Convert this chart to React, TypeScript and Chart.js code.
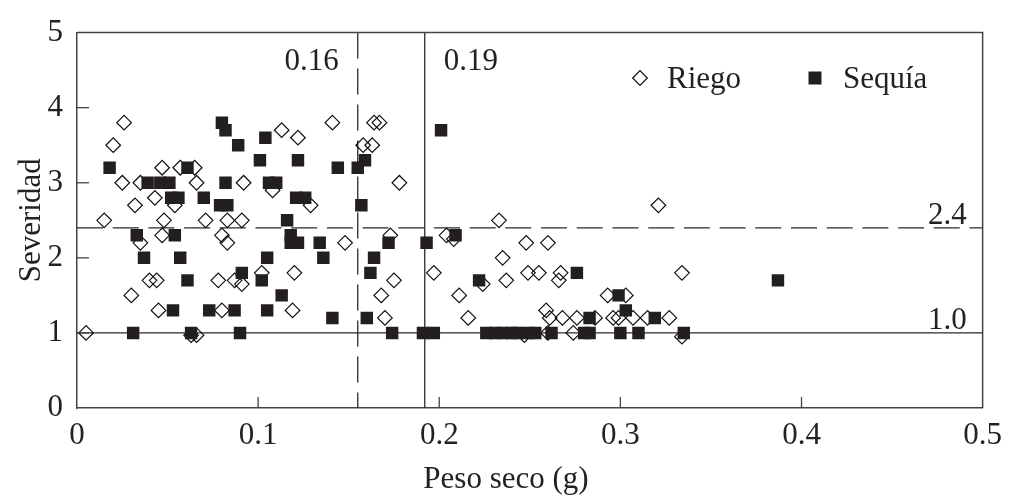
import React, { useEffect, useRef } from "react";
import { Chart, registerables } from "chart.js";

Chart.register(...registerables);

const FONT = '"Liberation Serif", "Times New Roman", serif';
const FS = 31;

// Riego (open diamonds): peso seco (g), severidad
const riegoX = [
  0.005, 0.015, 0.020, 0.026, 0.025, 0.030, 0.032, 0.035, 0.035, 0.040,
  0.044, 0.043, 0.047, 0.047, 0.048, 0.045, 0.054, 0.057, 0.065, 0.066,
  0.063, 0.066, 0.071, 0.078, 0.080, 0.080, 0.083, 0.083, 0.087, 0.091,
  0.091, 0.092, 0.102, 0.108, 0.113, 0.119, 0.120, 0.122, 0.129, 0.141,
  0.148, 0.158, 0.163, 0.164, 0.167, 0.168, 0.170, 0.173, 0.175, 0.178,
  0.197, 0.204, 0.208, 0.211, 0.216, 0.224, 0.233, 0.235, 0.237, 0.247,
  0.248, 0.249, 0.255, 0.259, 0.260, 0.261, 0.260, 0.266, 0.267, 0.268,
  0.274, 0.276, 0.286, 0.293, 0.296, 0.299, 0.303, 0.307, 0.315, 0.321,
  0.327, 0.334, 0.334,
];
const riegoY = [
  1.0, 2.5, 3.5, 3.8, 3.0, 1.5, 2.7, 3.0, 2.2, 1.7,
  1.7, 2.8, 3.2, 2.3, 2.5, 1.3, 2.7, 3.2, 3.2, 3.0,
  0.97, 0.97, 2.5, 1.7, 2.3, 1.3, 2.2, 2.5, 1.7, 1.65,
  2.5, 3.0, 1.8, 2.9, 3.7, 1.3, 1.8, 3.6, 2.7, 3.8,
  2.2, 3.5, 3.5, 3.8, 3.8, 1.5, 1.2, 2.3, 1.7, 3.0,
  1.8, 2.3, 2.25, 1.5, 1.2, 1.65, 2.5, 2.0, 1.7, 0.97,
  2.2, 1.8, 1.8, 1.3, 2.2, 1.2, 1.0, 1.7, 1.8, 1.2,
  1.0, 1.2, 1.2, 1.5, 1.2, 1.2, 1.5, 1.2, 1.2, 2.7,
  1.2, 1.8, 0.95,
];

// Sequía (filled squares)
const sequiaX = [
  0.018, 0.031, 0.033, 0.037, 0.039, 0.046, 0.051, 0.052, 0.053, 0.054,
  0.056, 0.057, 0.061, 0.061, 0.063, 0.070, 0.073, 0.079, 0.080, 0.082,
  0.082, 0.083, 0.087, 0.089, 0.090, 0.091, 0.101, 0.102, 0.104, 0.105,
  0.105, 0.106, 0.110, 0.113, 0.116, 0.118, 0.118, 0.121, 0.122, 0.122,
  0.126, 0.134, 0.136, 0.141, 0.144, 0.155, 0.157, 0.159, 0.160, 0.162,
  0.164, 0.172, 0.174, 0.191, 0.193, 0.197, 0.201, 0.209, 0.222, 0.226,
  0.231, 0.235, 0.240, 0.243, 0.249, 0.253, 0.262, 0.276, 0.280, 0.283,
  0.283, 0.299, 0.300, 0.303, 0.310, 0.319, 0.335, 0.387,
];
const sequiaY = [
  3.2, 1.0, 2.3, 2.0, 3.0, 3.0, 3.0, 2.8, 1.3, 2.3,
  2.8, 2.0, 3.2, 1.7, 1.0, 2.8, 1.3, 2.7, 3.8, 3.7,
  3.0, 2.7, 1.3, 3.5, 1.0, 1.8, 3.3, 1.7, 3.6, 2.0,
  1.3, 3.0, 3.0, 1.5, 2.5, 2.3, 2.2, 2.8, 3.3, 2.2,
  2.8, 2.2, 2.0, 1.2, 3.2, 3.2, 2.7, 3.3, 1.2, 1.8,
  2.0, 2.2, 1.0, 1.0, 2.2, 1.0, 3.7, 2.3, 1.7, 1.0,
  1.0, 1.0, 1.0, 1.0, 1.0, 1.0, 1.0, 1.8, 1.0, 1.0,
  1.2, 1.5, 1.0, 1.3, 1.0, 1.2, 1.0, 1.7,
];

const xTicks = [0, 0.1, 0.2, 0.3, 0.4, 0.5];
const yTicks = [0, 1, 2, 3, 4, 5];

// Threshold lines
const vLineValues = [0.155, 0.192];
const vLineLabels = ["0.16", "0.19"];
const vLineDashed = [true, false];
const hLineValues = [2.4, 1.0];
const hLineLabels = ["2.4", "1.0"];
const hLineDashed = [true, false];

const legendLabels = ["Riego", "Sequía"];
const xTitle = "Peso seco (g)";
const yTitle = "Severidad";

const overlayPlugin = {
  id: "overlay",
  beforeDatasetsDraw(chart: any) {
    const { ctx, chartArea: a, scales } = chart;
    const x = scales.x;
    const y = scales.y;
    ctx.save();
    ctx.strokeStyle = "#2a2a2a";
    ctx.lineWidth = 1.3;
    vLineValues.forEach((v, i) => {
      const px = x.getPixelForValue(v);
      ctx.setLineDash(vLineDashed[i] ? [26, 10] : []);
      ctx.beginPath();
      ctx.moveTo(px, a.top);
      ctx.lineTo(px, a.bottom);
      ctx.stroke();
    });
    hLineValues.forEach((v, i) => {
      const py = y.getPixelForValue(v);
      ctx.setLineDash(hLineDashed[i] ? [26, 9.7] : []);
      ctx.beginPath();
      ctx.moveTo(a.left, py);
      ctx.lineTo(a.right, py);
      ctx.stroke();
    });
    ctx.setLineDash([]);
    ctx.restore();
  },
  afterDraw(chart: any) {
    const { ctx, chartArea: a, scales } = chart;
    const x = scales.x;
    const y = scales.y;
    ctx.save();
    // frame top & right
    ctx.strokeStyle = "#444";
    ctx.lineWidth = 1.5;
    ctx.beginPath();
    ctx.moveTo(a.left, a.top);
    ctx.lineTo(a.right, a.top);
    ctx.lineTo(a.right, a.bottom);
    ctx.stroke();
    // inward ticks
    ctx.lineWidth = 1.3;
    xTicks.forEach((v) => {
      const px = x.getPixelForValue(v);
      if (px <= a.left + 1 || px >= a.right - 1) return;
      ctx.beginPath();
      ctx.moveTo(px, a.bottom);
      ctx.lineTo(px, a.bottom - 11);
      ctx.stroke();
    });
    yTicks.forEach((v) => {
      const py = y.getPixelForValue(v);
      if (py <= a.top + 1 || py >= a.bottom - 1) return;
      ctx.beginPath();
      ctx.moveTo(a.left, py);
      ctx.lineTo(a.left + 12, py);
      ctx.stroke();
    });

    ctx.fillStyle = "#222";
    ctx.font = `${FS}px ${FONT}`;
    // vertical line labels
    ctx.textBaseline = "alphabetic";
    vLineValues.forEach((v, i) => {
      const px = x.getPixelForValue(v);
      if (i === 0) {
        ctx.textAlign = "right";
        ctx.fillText(vLineLabels[i], px - 19, a.top + 37);
      } else {
        ctx.textAlign = "left";
        ctx.fillText(vLineLabels[i], px + 19, a.top + 37);
      }
    });
    // horizontal line labels
    ctx.textAlign = "right";
    hLineValues.forEach((v, i) => {
      const py = y.getPixelForValue(v);
      ctx.fillText(hLineLabels[i], a.right - 16, py - 4);
    });

    // legend
    const ly = 78;
    ctx.strokeStyle = "#111";
    ctx.lineWidth = 1.2;
    ctx.beginPath();
    ctx.moveTo(640 - 7.3, ly);
    ctx.lineTo(640, ly - 7.3);
    ctx.lineTo(640 + 7.3, ly);
    ctx.lineTo(640, ly + 7.3);
    ctx.closePath();
    ctx.stroke();
    ctx.fillStyle = "#231f20";
    ctx.fillRect(815 - 6.5, ly - 6.5, 13, 13);
    ctx.fillStyle = "#222";
    ctx.textAlign = "left";
    ctx.fillText(legendLabels[0], 667, 88);
    ctx.fillText(legendLabels[1], 843, 88);

    // axis titles
    ctx.textAlign = "center";
    ctx.fillText(xTitle, 506, 488);
    ctx.save();
    ctx.translate(40, (a.top + a.bottom) / 2);
    ctx.rotate(-Math.PI / 2);
    ctx.textAlign = "center";
    ctx.textBaseline = "alphabetic";
    ctx.fillText(yTitle, 0, 0);
    ctx.restore();
    ctx.restore();
  },
};

export default function App() {
  const ref = useRef<HTMLCanvasElement | null>(null);
  useEffect(() => {
    if (!ref.current) return;
    const chart = new Chart(ref.current, {
      type: "scatter",
      data: {
        datasets: [
          {
            label: legendLabels[1],
            data: sequiaX.map((v, i) => ({ x: v, y: sequiaY[i] })),
            pointStyle: "rect",
            pointRadius: 8.8,
            backgroundColor: "#231f20",
            borderColor: "#231f20",
            borderWidth: 0,
            order: 0,
          },
          {
            label: legendLabels[0],
            data: riegoX.map((v, i) => ({ x: v, y: riegoY[i] })),
            pointStyle: "rectRot",
            pointRadius: 7.3,
            backgroundColor: "rgba(0,0,0,0)",
            borderColor: "#111",
            borderWidth: 1.2,
            order: 1,
          },
        ],
      },
      options: {
        animation: false,
        responsive: false,
        maintainAspectRatio: false,
        events: [],
        layout: { padding: { left: 0, right: 19, top: 26, bottom: 0 } },
        plugins: { legend: { display: false }, tooltip: { enabled: false } },
        scales: {
          x: {
            type: "linear",
            min: 0,
            max: 0.5,
            afterBuildTicks: (s: any) => {
              s.ticks = xTicks.map((v) => ({ value: v }));
            },
            ticks: {
              font: { size: FS, family: FONT },
              color: "#222",
              padding: 9,
              maxRotation: 0,
              autoSkip: false,
              callback: (v: any) => String(Math.round(v * 10) / 10),
            },
            grid: { display: false, drawTicks: false },
            border: { display: true, color: "#444", width: 1.5 },
            afterFit: (s: any) => {
              s.height = 88;
            },
          },
          y: {
            type: "linear",
            min: 0,
            max: 5,
            afterBuildTicks: (s: any) => {
              s.ticks = yTicks.map((v) => ({ value: v }));
            },
            ticks: {
              font: { size: FS, family: FONT },
              color: "#222",
              padding: 14,
              autoSkip: false,
            },
            grid: { display: false, drawTicks: false },
            border: { display: true, color: "#444", width: 1.5 },
            afterFit: (s: any) => {
              s.width = 77;
            },
          },
        },
      },
      plugins: [overlayPlugin],
    });
    return () => chart.destroy();
  }, []);
  return (
    <div style={{ position: "absolute", left: 0, top: 0, width: 1011, height: 496, background: "#fff" }}>
      <canvas ref={ref} width={1011} height={496} style={{ width: 1011, height: 496, display: "block" }} />
    </div>
  );
}
